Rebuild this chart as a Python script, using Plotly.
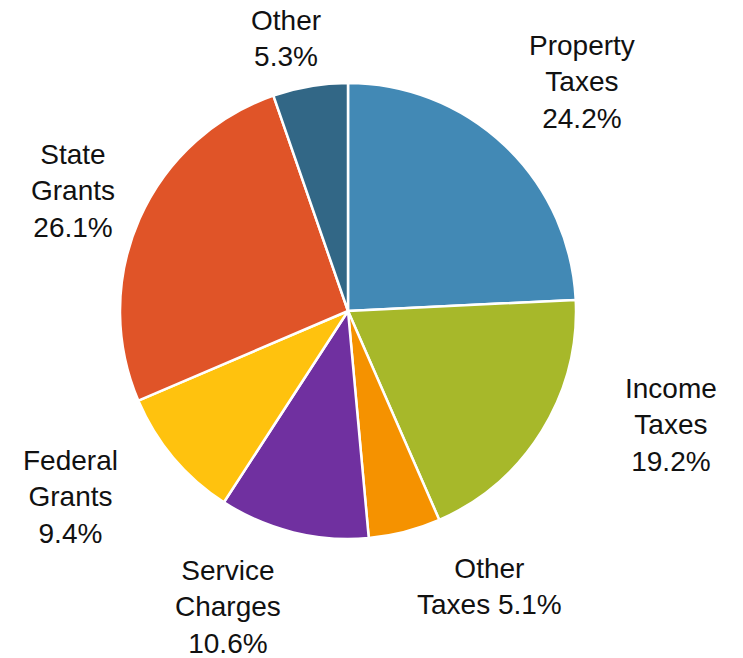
import plotly.graph_objects as go

# ---- data ----
categories = ["Property Taxes", "Income Taxes", "Other Taxes", "Service Charges",
              "Federal Grants", "State Grants", "Other"]
label_text = ["Property<br>Taxes", "Income<br>Taxes", "Other<br>Taxes", "Service<br>Charges",
              "Federal<br>Grants", "State<br>Grants", "Other"]
shares = [24.2, 19.2, 5.1, 10.6, 9.4, 26.1, 5.3]

# ---- styling / layout ----
colors = ["#4289B5", "#A7B82A", "#F59200", "#7030A0", "#FFC20E", "#E05428", "#326786"]
W, H = 743, 658
# label anchor centres in pixels (layout only)
label_px = [(582, 82), (671, 425), (490, 586), (228, 607), (70, 497), (73, 191), (286, 38)]
# separator between name and value ("<br>" or " ")
value_sep = ["<br>", "<br>", " ", "<br>", "<br>", "<br>", "<br>"]

fig = go.Figure(go.Pie(
    labels=categories,
    values=shares,
    sort=False,
    direction="clockwise",
    rotation=0,
    marker=dict(colors=colors, line=dict(color="white", width=2.5)),
    textinfo="none",
    hoverinfo="label+percent",
    showlegend=False,
    domain=dict(x=[120 / W, 576 / W], y=[1 - 539 / H, 1 - 83 / H]),
))

for txt, val, sep, (px, py) in zip(label_text, shares, value_sep, label_px):
    fig.add_annotation(
        x=px / W, y=1 - py / H, xref="paper", yref="paper",
        text=f"{txt}{sep}{val:.1f}%",
        showarrow=False, xanchor="center", yanchor="middle", align="center",
        font=dict(family="Liberation Sans, Arial, sans-serif", size=28, color="#111111"),
    )

fig.update_layout(
    width=W, height=H,
    margin=dict(l=0, r=0, t=0, b=0),
    paper_bgcolor="white", plot_bgcolor="white",
)

fig.write_html("out.html",
               config={"displayModeBar": False},
               post_script="document.body.style.margin='0';document.body.style.overflow='hidden';")
